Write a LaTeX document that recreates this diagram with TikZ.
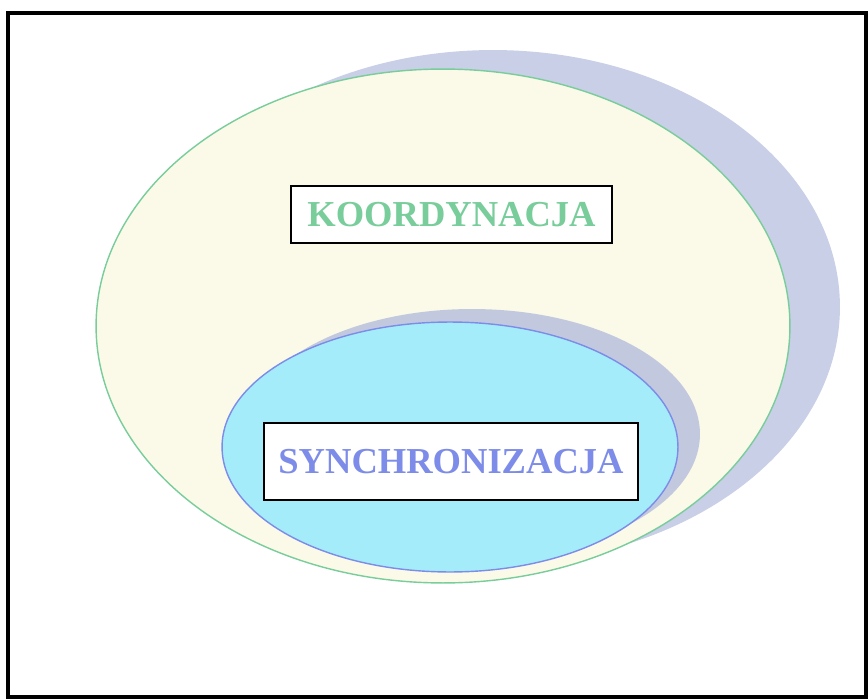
\documentclass[tikz,border=0pt]{standalone}
\usepackage{fontspec}
\setmainfont{Liberation Serif}
\usepackage{tikz}
\usetikzlibrary{positioning, shapes.geometric, calc}
\definecolor{cream}{RGB}{251,249,232}
\definecolor{shade}{RGB}{200,207,230}
\definecolor{skyfill}{RGB}{165,236,250}
\definecolor{kgreen}{RGB}{120,205,155}
\definecolor{sblue}{RGB}{125,140,232}

\begin{document}
\begin{tikzpicture}[x=0.02cm,y=-0.02cm,
  set/.style={shape=ellipse, inner sep=0pt},
  label box/.style={draw=black, line width=1.3pt, fill=white, inner sep=0pt, font=\bfseries\fontsize{20.8}{24}\selectfont},
  ]
  \useasboundingbox (0,0) rectangle (868,699);
  \draw[line width=2pt] (8,13) rectangle (866,697);
  % outer set with its shadow
  \node[set, fill=shade, minimum width=13.88cm, minimum height=10.28cm] (koordshadow) at (493,307) {};
  \node[set, fill=cream, draw=kgreen, line width=0.8pt, minimum width=13.88cm, minimum height=10.28cm] (koordset) at (443,326) {};
  % inner set with its shadow
  \node[set, fill=shade!97!black, minimum width=9.12cm, minimum height=5cm] (syncshadow) at (472,434) {};
  \node[set, fill=skyfill, draw=sblue, line width=0.8pt, minimum width=9.12cm, minimum height=5cm] (syncset) at (450,447) {};
  % labels
  \node[label box, text=kgreen, minimum width=6.42cm, minimum height=1.14cm] (koord) at (451.5,214.5) {KOORDYNACJA};
  \node[label box, text=sblue, minimum width=7.48cm, minimum height=1.54cm] (sync) at (451,461.5) {SYNCHRONIZACJA};
\end{tikzpicture}
\end{document}
